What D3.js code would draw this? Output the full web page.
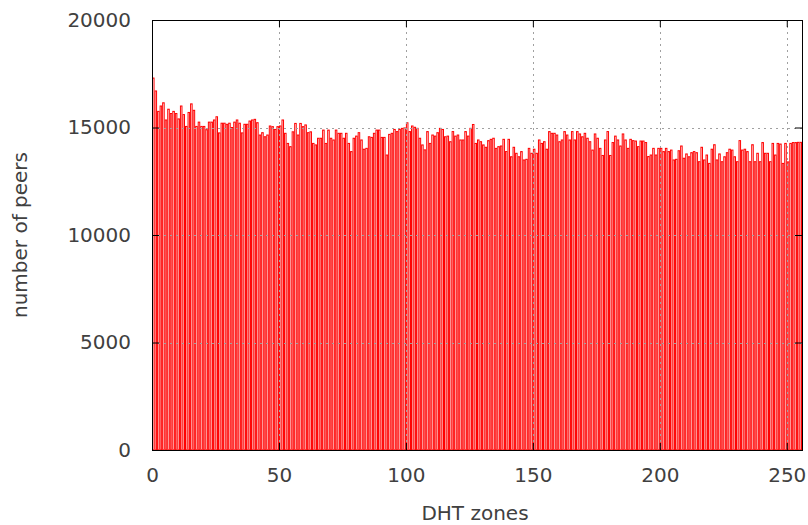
<!DOCTYPE html>
<html>
<head>
<meta charset="utf-8">
<script src="https://cdn.jsdelivr.net/npm/d3@7"></script>
<style>
  body { margin: 0; background: #fff; }
  text { font-family: "DejaVu Sans", sans-serif; fill: #404040; }
</style>
</head>
<body>
<div id="chart"></div>
<script>
// number of peers per DHT zone (zones 0..255)
let peers = [
  17300, 16700, 15750, 16000, 16150, 15350, 15850, 15650, 15750, 15650,
  15400, 16000, 15600, 15050, 15700, 16100, 15800, 15050, 15250, 15050,
  15050, 14900, 15250, 15250, 15350, 15500, 14750, 15200, 15200, 15150,
  15200, 15000, 15250, 15350, 15200, 14750, 15150, 15150, 15300, 15350,
  15380, 15225, 14650, 14760, 14570, 14650, 15070, 15040, 14910, 15040,
  15070, 15350, 14730, 14260, 14110, 14800, 15190, 14650, 15190, 15040,
  15120, 14760, 14800, 14260, 14190, 14500, 14500, 14880, 14260, 14880,
  14500, 14420, 14880, 14730, 14730, 14500, 14730, 14260, 13880, 14500,
  14600, 14760, 14420, 13990, 14030, 14570, 14540, 14730, 14880, 14880,
  14540, 14540, 13720, 14680, 14730, 14910, 14810, 14910, 14960, 14980,
  15220, 14810, 15070, 15010, 14960, 14500, 14190, 13960, 14810, 14260,
  14650, 14600, 14760, 14960, 14910, 14570, 14600, 14340, 14810, 14600,
  14650, 14420, 14420, 14810, 14600, 14960, 15140, 14260, 14420, 14340,
  14190, 14080, 14390, 14450, 14500, 14030, 14110, 14140, 14450, 13880,
  14450, 13640, 14080, 13800, 13640, 13880, 13490, 13520, 14030, 13800,
  13990, 13800, 14420, 14260, 14340, 13990, 14810, 14730, 14730, 14650,
  14340, 14420, 14810, 14650, 14420, 14810, 14420, 14810, 14700, 14570,
  14730, 14500, 14340, 13950, 14700, 14500, 14030, 13700, 14420, 14810,
  13700, 14300, 14600, 14420, 14140, 14700, 14420, 14030, 14450, 14390,
  14370, 14110, 14370, 14370, 14300, 13650, 13720, 14030, 13720, 14030,
  14030, 13880, 14030, 13880, 13950, 13490, 13520, 13920, 14140, 13570,
  13770, 13640, 13830, 13880, 13830, 13410, 14080, 13490, 13720, 13330,
  13990, 14200, 13490, 13770, 13410, 13640, 13830, 13990, 13950, 13640,
  13410, 14390, 13950, 13990, 13880, 13410, 14200, 13410, 13800, 13410,
  14300, 13800, 13800, 13410, 14260, 13720, 14260, 14230, 13330, 14260,
  13400, 14260, 14300, 14300, 14310, 14310
];
let zones = peers.map(function(d, i) { return i; });

let xTicks = [0, 50, 100, 150, 200, 250];
let yTicks = [0, 5000, 10000, 15000, 20000];

let margin = {top: 20, right: 6, bottom: 75, left: 152},
    width = 808 - margin.left - margin.right,
    height = 525 - margin.top - margin.bottom;

let x = d3.scaleLinear().domain([0, 256]).range([0, width]);
let y = d3.scaleLinear().domain([0, 20000]).range([height, 0]);

let svg = d3.select("#chart").append("svg")
    .attr("width", 808)
    .attr("height", 525);

let g = svg.append("g")
    .attr("transform", "translate(" + margin.left + "," + margin.top + ")");

g.append("clipPath").attr("id", "clip")
  .append("rect").attr("width", width).attr("height", height);

// bars
g.append("g").attr("clip-path", "url(#clip)")
  .selectAll("rect")
  .data(zones)
  .enter().append("rect")
    .attr("x", function(d) { return x(d) + 0.5; })
    .attr("y", function(d) { return y(peers[d]); })
    .attr("width", x(1) - x(0) - 1)
    .attr("height", function(d) { return height - y(peers[d]); })
    .style("fill", "#fff")
    .style("stroke", "#ff0000")
    .style("stroke-width", 1);

// dotted grid over the bars
let grid = g.append("g").style("stroke", "#a0a0a0").style("stroke-dasharray", "2,4");
grid.selectAll(".gx")
  .data(xTicks.filter(function(d) { return d > 0; }))
  .enter().append("line")
    .attr("x1", function(d) { return Math.round(x(d)) + 0.5; })
    .attr("x2", function(d) { return Math.round(x(d)) + 0.5; })
    .attr("y1", 0).attr("y2", height);
grid.selectAll(".gy")
  .data(yTicks.filter(function(d) { return d > 0 && d < 20000; }))
  .enter().append("line")
    .attr("x1", 0).attr("x2", width)
    .attr("y1", function(d) { return Math.round(y(d)) + 0.5; })
    .attr("y2", function(d) { return Math.round(y(d)) + 0.5; });

// axes, ticks inward and mirrored
let ax = function(sel) {
  sel.select(".domain").remove();
  sel.selectAll(".tick line").style("stroke", "#000");
  sel.selectAll(".tick text").style("font-size", "20px").style("fill", "#404040");
};

g.append("g")
    .attr("transform", "translate(0," + height + ")")
    .call(d3.axisBottom(x).tickValues(xTicks).tickFormat(d3.format("d"))
      .tickSizeInner(-7).tickPadding(18))
    .call(ax);
g.append("g")
    .call(d3.axisTop(x).tickValues(xTicks).tickSizeInner(-7).tickFormat(""))
    .call(ax);
g.append("g")
    .call(d3.axisLeft(y).tickValues(yTicks).tickFormat(d3.format("d"))
      .tickSizeInner(-7).tickPadding(21))
    .call(ax);
g.append("g")
    .attr("transform", "translate(" + width + ",0)")
    .call(d3.axisRight(y).tickValues(yTicks).tickSizeInner(-7).tickFormat(""))
    .call(ax);

// frame
g.append("rect")
    .attr("x", 0.5).attr("y", 0.5)
    .attr("width", width).attr("height", height)
    .style("fill", "none").style("stroke", "#000");

// axis titles
svg.append("text")
    .attr("x", 475).attr("y", 520)
    .attr("text-anchor", "middle")
    .style("font-size", "20px")
    .text("DHT zones");
svg.append("text")
    .attr("transform", "translate(27," + (margin.top + height / 2) + ") rotate(-90)")
    .attr("text-anchor", "middle")
    .style("font-size", "20px")
    .text("number of peers");
</script>
</body>
</html>
